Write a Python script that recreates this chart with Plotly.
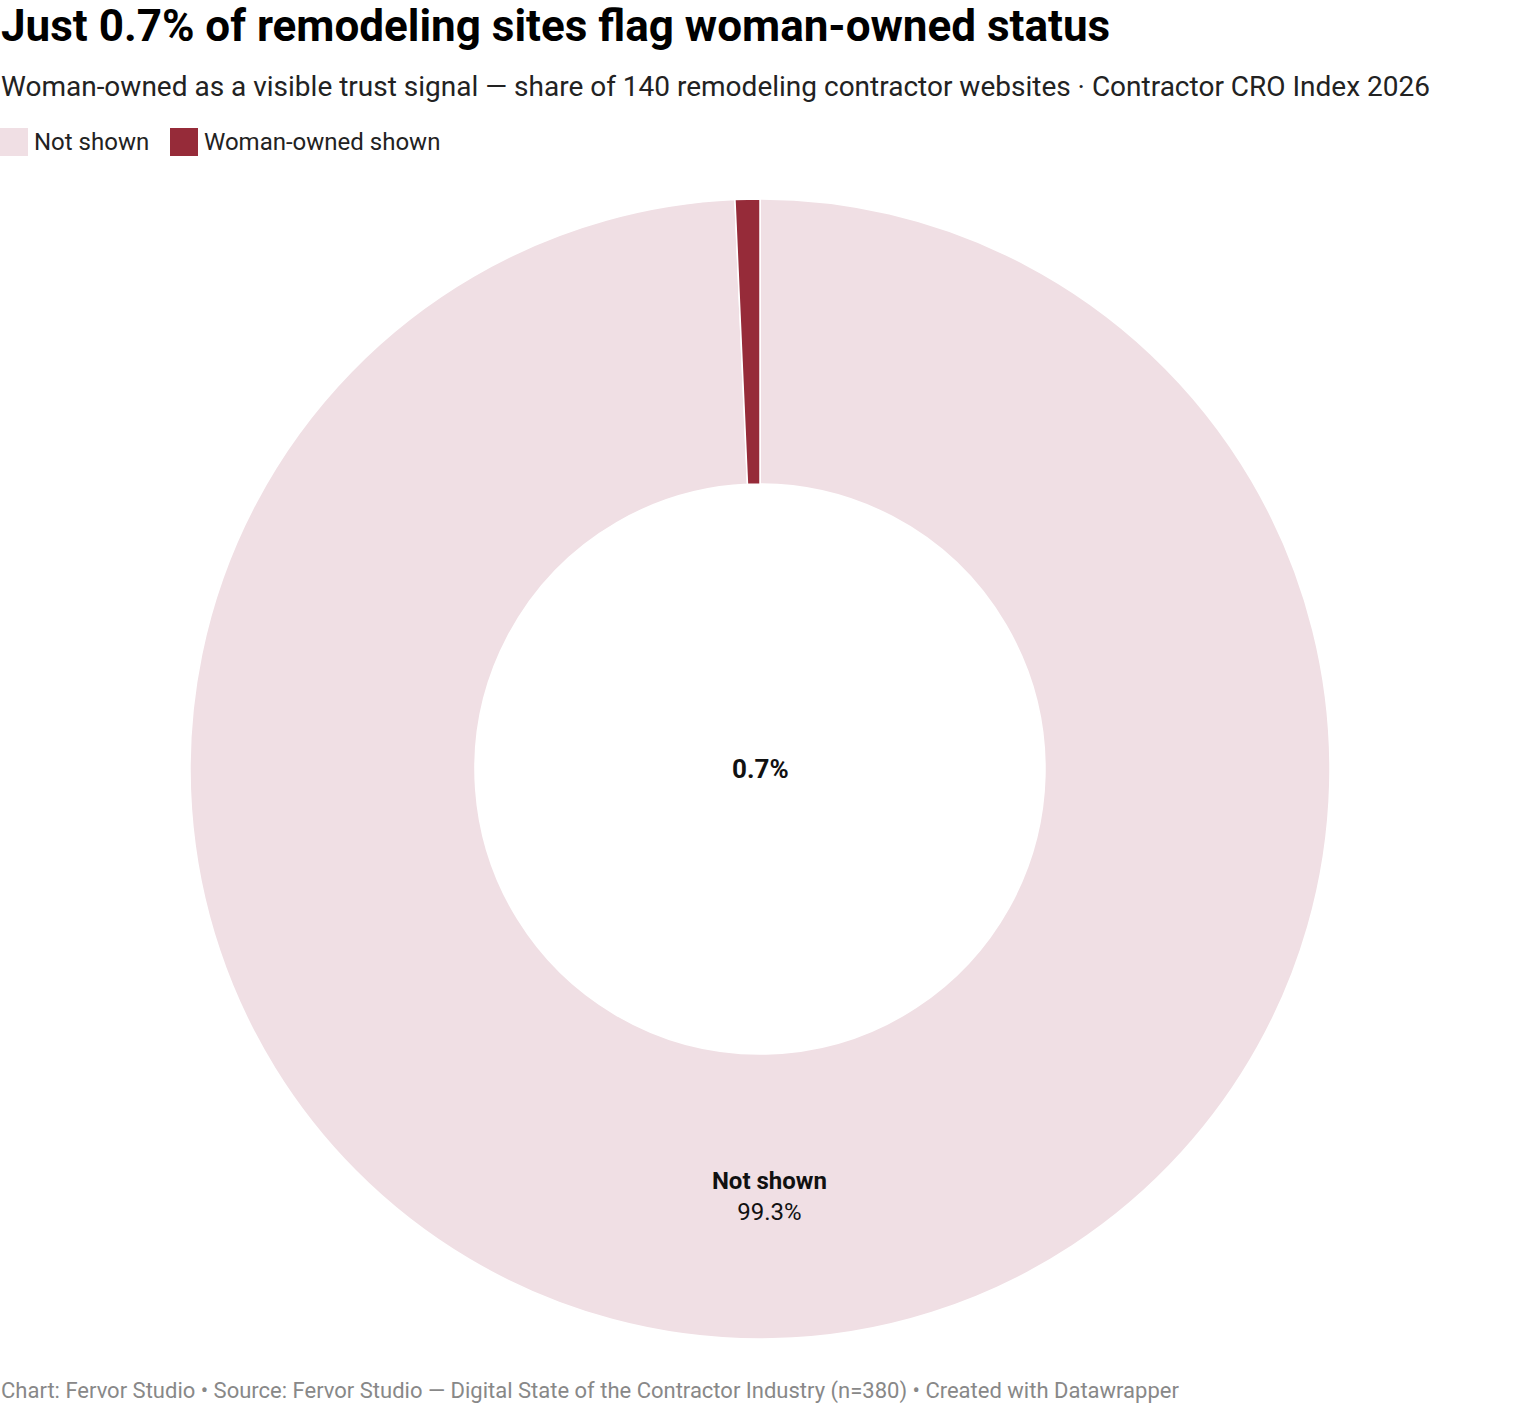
import plotly.graph_objects as go

categories = ["Not shown", "Woman-owned shown"]
values = [99.3, 0.7]
colors = ["#f0dfe4", "#962b39"]
slice_text = ["<b>Not shown</b><br>99.3%", ""]
center_label = "0.7%"

title = "Just 0.7% of remodeling sites flag woman-owned status"
subtitle = "Woman-owned as a visible trust signal — share of 140 remodeling contractor websites · Contractor CRO Index 2026"
footer = "Chart: Fervor Studio • Source: Fervor Studio — Digital State of the Contractor Industry (n=380) • Created with Datawrapper"

W, H = 1520, 1406
plot_top, plot_bot = 199, 1339
plot_h = plot_bot - plot_top


def py(pix):
    """pixel y from top -> paper y"""
    return 1 - (pix - plot_top) / plot_h


def px(pix):
    return pix / W


fig = go.Figure(go.Pie(
    labels=categories,
    values=values,
    marker=dict(colors=colors, line=dict(color="white", width=1.5)),
    hole=0.5,
    sort=False,
    direction="clockwise",
    rotation=0,
    text=slice_text,
    textinfo="text",
    textposition="inside",
    insidetextorientation="horizontal",
    insidetextfont=dict(family="Roboto", size=24, color="#111"),
    hoverinfo="label+percent",
    showlegend=False,
))

annotations = [
    dict(text="<b>" + title + "</b>", x=0, y=py(26), xanchor="left", yanchor="middle",
         font=dict(family="Roboto", size=44, color="#000"), borderpad=0),
    dict(text=subtitle, x=0, y=py(87), xanchor="left", yanchor="middle",
         font=dict(family="Roboto", size=28, color="#222"), borderpad=0),
    dict(text="<b>" + center_label + "</b>", x=0.5, y=0.5, xanchor="center", yanchor="middle",
         font=dict(family="Roboto", size=26, color="#111")),
    dict(text=footer, x=0, y=py(1391), xanchor="left", yanchor="middle",
         font=dict(family="Roboto", size=22, color="#888"), borderpad=0),
]

# custom legend (swatch + label)
shapes = []
legend_x = [0, 170]
for cat, col, lx in zip(categories, colors, legend_x):
    shapes.append(dict(type="rect", xref="paper", yref="paper",
                       x0=px(lx), x1=px(lx + 28), y0=py(156), y1=py(128),
                       fillcolor=col, line=dict(width=0)))
    annotations.append(dict(text=cat, x=px(lx + 33), y=py(142), xanchor="left", yanchor="middle",
                            font=dict(family="Roboto", size=24, color="#222"), borderpad=0))

for a in annotations:
    a.update(xref="paper", yref="paper", showarrow=False)

fig.update_layout(
    width=W, height=H,
    paper_bgcolor="white", plot_bgcolor="white",
    margin=dict(l=0, r=0, t=plot_top, b=H - plot_bot),
    font=dict(family="Roboto", color="#111"),
    showlegend=False,
    annotations=annotations,
    shapes=shapes,
)

fig.write_html("out.html", config={"displayModeBar": False},
               post_script="document.body.style.margin='0';")
